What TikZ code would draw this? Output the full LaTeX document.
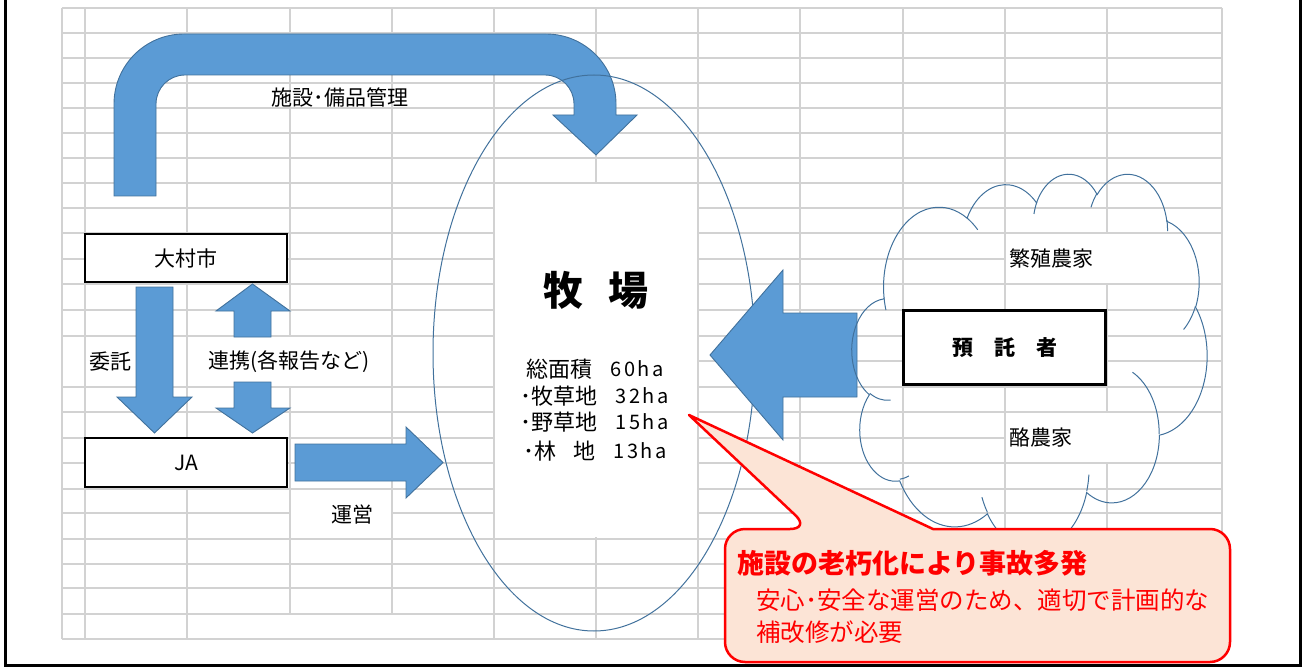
\documentclass[tikz,border=0pt]{standalone}
\usepackage{fontspec}
\setmainfont{Noto Sans CJK JP}
\usetikzlibrary{shapes.geometric}
\definecolor{gridgray}{RGB}{210,210,210}
\definecolor{arrowblue}{RGB}{91,155,213}
\definecolor{arrowedge}{RGB}{65,113,156}
\definecolor{calloutfill}{RGB}{252,228,214}
\definecolor{calloutred}{RGB}{255,0,0}
\newcommand\cloudcalc[5]{%
  \pgfmathsetmacro\cctA{atan2((#2)*sin(#4),(#3)*cos(#4))}%
  \pgfmathsetmacro\cctB{atan2((#2)*sin((#4)+(#5)),(#3)*cos((#4)+(#5)))}%
  \pgfmathsetmacro\cctD{mod(\cctB-\cctA+720,360)}%
  \expandafter\global\expandafter\let\csname cls#1\endcsname\cctA
  \expandafter\global\expandafter\let\csname cld#1\endcsname\cctD
}
\newcommand\hwbox[1]{\makebox[14pt]{#1}}
\begin{document}
\begin{tikzpicture}[x=1pt, y=-1pt,
  lbl/.style={inner sep=0pt, font=\fontsize{21}{25}\selectfont},
  listtxt/.style={inner sep=0pt, font=\fontsize{22}{26}\selectfont},
  numtxt/.style={inner sep=0pt, font=\fontsize{20}{24}\selectfont},
  boxnode/.style={draw=black, line width=2.2pt, fill=white, inner sep=0pt, minimum width=202pt, font=\fontsize{21}{25}\selectfont},
  patch/.style={fill=white, draw=none},
  gridline/.style={draw=gridgray, line width=1.3pt},
  blockarrow/.style={fill=arrowblue, draw=arrowedge, line width=0.9pt},
  thinblue/.style={draw=arrowedge, line width=1pt},
  callout/.style={fill=calloutfill, draw=calloutred, line width=2.5pt, line join=round},
  redtxt/.style={inner sep=0pt, text=calloutred}
]
\useasboundingbox (0,0) rectangle (1303,668);
\clip (0,0) rectangle (1303,668);

% ---------- grid ----------
\foreach \yy in {8,33,58,83,108,133,158,183,208,233,259,284,310,336,387,412,438,463,489,513,539,564,588,614,639}
  \draw[gridline] (62,\yy) -- (1222,\yy);
\draw[gridline] (698,361) -- (1222,361);
\foreach \xx in {62,85,187,290,392,494,596,698,800,903,1005,1107,1222}
  \draw[gridline] (\xx,8) -- (\xx,639);
% white areas (text boxes / merged cells)
\fill[patch] (494.8,183.8) rectangle (697.2,537.2);
\fill[patch] (187.8,336.8) rectangle (391.2,386.2);
\fill[patch] (290.8,489.8) rectangle (391.2,538.2);
\fill[patch] (1005.8,233.8) rectangle (1221.2,283.2);
\fill[patch] (1005.8,412.8) rectangle (1221.2,462.2);
\fill[patch] (187.8,614.8) rectangle (493.2,638.2);

% ---------- bent arrow ----------
\draw[blockarrow] (114,196) -- (114,104) arc[start angle=180, end angle=270, radius=70]
  -- (546,34) arc[start angle=270, end angle=360, radius=70]
  -- (616,115) -- (637,115) -- (596,155) -- (553,115) -- (574,115) -- (574,104)
  arc[start angle=0, end angle=-90, radius=29]
  -- (185,75) arc[start angle=270, end angle=180, radius=29]
  -- (156,196) -- cycle;

% ---------- farm ellipse ----------
\node[ellipse, thinblue, minimum width=322pt, minimum height=556pt, inner sep=0pt] (farm) at (594,353) {};
\node[inner sep=0pt, font=\fontsize{40}{44}\selectfont\bfseries] (farmtitle) at (596,290) {牧\hspace{25pt}場};
\node[listtxt, anchor=east] (l1a) at (593,369) {総面積};
\node[numtxt, anchor=west] (l1b) at (608.5,369) {\hwbox{6}\hwbox{0}\hwbox{h}\hwbox{a}};
\node[listtxt, anchor=east] (l2a) at (597.5,396) {･牧草地};
\node[numtxt, anchor=west] (l2b) at (613.5,396) {\hwbox{3}\hwbox{2}\hwbox{h}\hwbox{a}};
\node[listtxt, anchor=east] (l3a) at (597.5,422) {･野草地};
\node[numtxt, anchor=west] (l3b) at (613.5,422) {\hwbox{1}\hwbox{5}\hwbox{h}\hwbox{a}};
\node[listtxt, anchor=east] (l4a) at (595.5,451) {･林\hspace{16.5pt}地};
\node[numtxt, anchor=west] (l4b) at (611.5,451) {\hwbox{1}\hwbox{3}\hwbox{h}\hwbox{a}};

% ---------- left side ----------
\node[boxnode, minimum height=48pt] (ohmura) at (186,258) {大村市};
\node[boxnode, minimum height=49pt] (ja) at (186,462.5) {JA};
\draw[blockarrow] (136,287) -- (173,287) -- (173,397) -- (192,397) -- (154.5,433) -- (117,397) -- (136,397) -- cycle;
\draw[blockarrow] (252.5,284) -- (290,311) -- (271,311) -- (271,337) -- (234,337) -- (234,311) -- (216,311) -- cycle;
\draw[blockarrow] (234,382) -- (271,382) -- (271,408) -- (290,408) -- (252.5,433) -- (216,408) -- (234,408) -- cycle;
\draw[blockarrow] (295,444) -- (406,444) -- (406,427) -- (443,462.5) -- (406,498) -- (406,481) -- (295,481) -- cycle;

% ---------- big left arrow ----------
\draw[blockarrow] (710,355) -- (783,270) -- (783,313) -- (857,313) -- (857,397) -- (783,397) -- (783,440) -- cycle;

% ---------- cloud ----------
\cloudcalc{A}{67.53}{91.90}{-190.4875}{123.7805}
\cloudcalc{B}{53.33}{72.67}{-144.1024}{89.9452}
\cloudcalc{C}{43.65}{59.45}{-145.8079}{99.7230}
\cloudcalc{D}{48.57}{65.95}{-130.9861}{117.2417}
\cloudcalc{E}{53.33}{72.73}{-78.7089}{109.0269}
\cloudcalc{F}{67.75}{92.20}{-46.2673}{130.2690}
\cloudcalc{G}{57.85}{78.67}{0.6250}{114.0333}
\cloudcalc{H}{67.52}{92.15}{22.4516}{115.1726}
\cloudcalc{I}{77.20}{105.43}{66.2426}{75.7111}
\cloudcalc{J}{43.60}{59.18}{-274.9421}{146.7356}
\cloudcalc{K}{43.45}{59.45}{-246.8285}{152.5189}
\cloudcalc{a}{43.45}{59.45}{86.7420}{26.4295}
\cloudcalc{b}{43.60}{59.18}{73.6105}{11.4475}
\cloudcalc{c}{67.52}{92.15}{137.6242}{14.0811}
\cloudcalc{d}{67.52}{92.15}{6.4533}{15.9984}
\cloudcalc{e}{57.85}{78.67}{-70.2924}{70.9174}
\cloudcalc{f}{53.33}{72.73}{30.3180}{27.7515}
\cloudcalc{g}{48.57}{65.95}{-13.7443}{14.8589}
\cloudcalc{h}{48.57}{65.95}{-149.1815}{18.1954}
\cloudcalc{i}{43.65}{59.45}{-163.4943}{17.6864}
\cloudcalc{j}{67.53}{91.90}{-66.7070}{12.3194}
\cloudcalc{k}{67.53}{91.90}{157.6544}{11.8582}
\begin{scope}[shift={(852,173)}, x={(0.82176pt,0pt)}, y={(0pt,-0.86806pt)}]
\draw[thinblue] (39.00,143.70)
  arc[start angle=\clsA, delta angle=\cldA, x radius=67.53, y radius=91.90]
  arc[start angle=\clsB, delta angle=\cldB, x radius=53.33, y radius=72.67]
  arc[start angle=\clsC, delta angle=\cldC, x radius=43.65, y radius=59.45]
  arc[start angle=\clsD, delta angle=\cldD, x radius=48.57, y radius=65.95]
  arc[start angle=\clsE, delta angle=\cldE, x radius=53.33, y radius=72.73]
  arc[start angle=\clsF, delta angle=\cldF, x radius=67.75, y radius=92.20]
  arc[start angle=\clsG, delta angle=\cldG, x radius=57.85, y radius=78.67]
  arc[start angle=\clsH, delta angle=\cldH, x radius=67.52, y radius=92.15]
  arc[start angle=\clsI, delta angle=\cldI, x radius=77.20, y radius=105.43]
  arc[start angle=\clsJ, delta angle=\cldJ, x radius=43.60, y radius=59.18]
  arc[start angle=\clsK, delta angle=\cldK, x radius=43.45, y radius=59.45]
  -- cycle;
\draw[thinblue]
  (46.93,261.77) arc[start angle=\clsa, delta angle=\clda, x radius=43.45, y radius=59.45]
  (69.28,348.99) arc[start angle=\clsb, delta angle=\cldb, x radius=43.60, y radius=59.18]
  (164.78,390.90) arc[start angle=\clsc, delta angle=\cldc, x radius=67.52, y radius=92.15]
  (288.27,347.51) arc[start angle=\clsd, delta angle=\cldd, x radius=67.52, y radius=92.15]
  (341.29,229.54) arc[start angle=\clse, delta angle=\clde, x radius=57.85, y radius=78.67]
  (417.98,153.54) arc[start angle=\clsf, delta angle=\cldf, x radius=53.33, y radius=72.73]
  (383.24,54.26) arc[start angle=\clsg, delta angle=\cldg, x radius=48.57, y radius=65.95]
  (290.78,39.52) arc[start angle=\clsh, delta angle=\cldh, x radius=48.57, y radius=65.95]
  (221.41,47.20) arc[start angle=\clsi, delta angle=\cldi, x radius=43.65, y radius=59.45]
  (140.00,51.92) arc[start angle=\clsj, delta angle=\cldj, x radius=67.53, y radius=91.90]
  (41.27,157.89) arc[start angle=\clsk, delta angle=\cldk, x radius=67.53, y radius=91.90];
\end{scope}

\node[boxnode, line width=2.7pt, minimum width=202.4pt, minimum height=74.4pt, font=\fontsize{21}{25}\selectfont\bfseries] (depositor) at (1004.5,347.5) {預　託　者};
\node[lbl, anchor=west] (breeder) at (1009,258.5) {繁殖農家};
\node[lbl, anchor=west] (dairy) at (1009,437.5) {酪農家};

% ---------- labels ----------
\node[lbl] (mgmt) at (340,97) {施設･備品管理};
\node[lbl] (itaku) at (110,362) {委託};
\node[lbl] (renkei) at (289,362) {連携(各報告など)};
\node[lbl] (unei) at (352,515) {運営};

% ---------- callout ----------
\draw[callout] (933,529) [rounded corners=20pt] -- (1230,529) -- (1230,662) -- (725,662) -- (725,529) -- (810,529) [sharp corners] -- (689,415) -- cycle;
\node[redtxt, anchor=west, font=\fontsize{27}{32}\selectfont\bfseries] (warn) at (737,563) {施設の老朽化により事故多発};
\node[redtxt, anchor=west, font=\fontsize{24.5}{29}\selectfont] (warn2) at (756,600) {安心･安全な運営のため、適切で計画的な};
\node[redtxt, anchor=west, font=\fontsize{24.5}{29}\selectfont] (warn3) at (756,632) {補改修が必要};

% ---------- outer frame ----------
\draw[line width=3.5pt] (5.5,-20) rectangle (1300.5,665.5);
\end{tikzpicture}
\end{document}
